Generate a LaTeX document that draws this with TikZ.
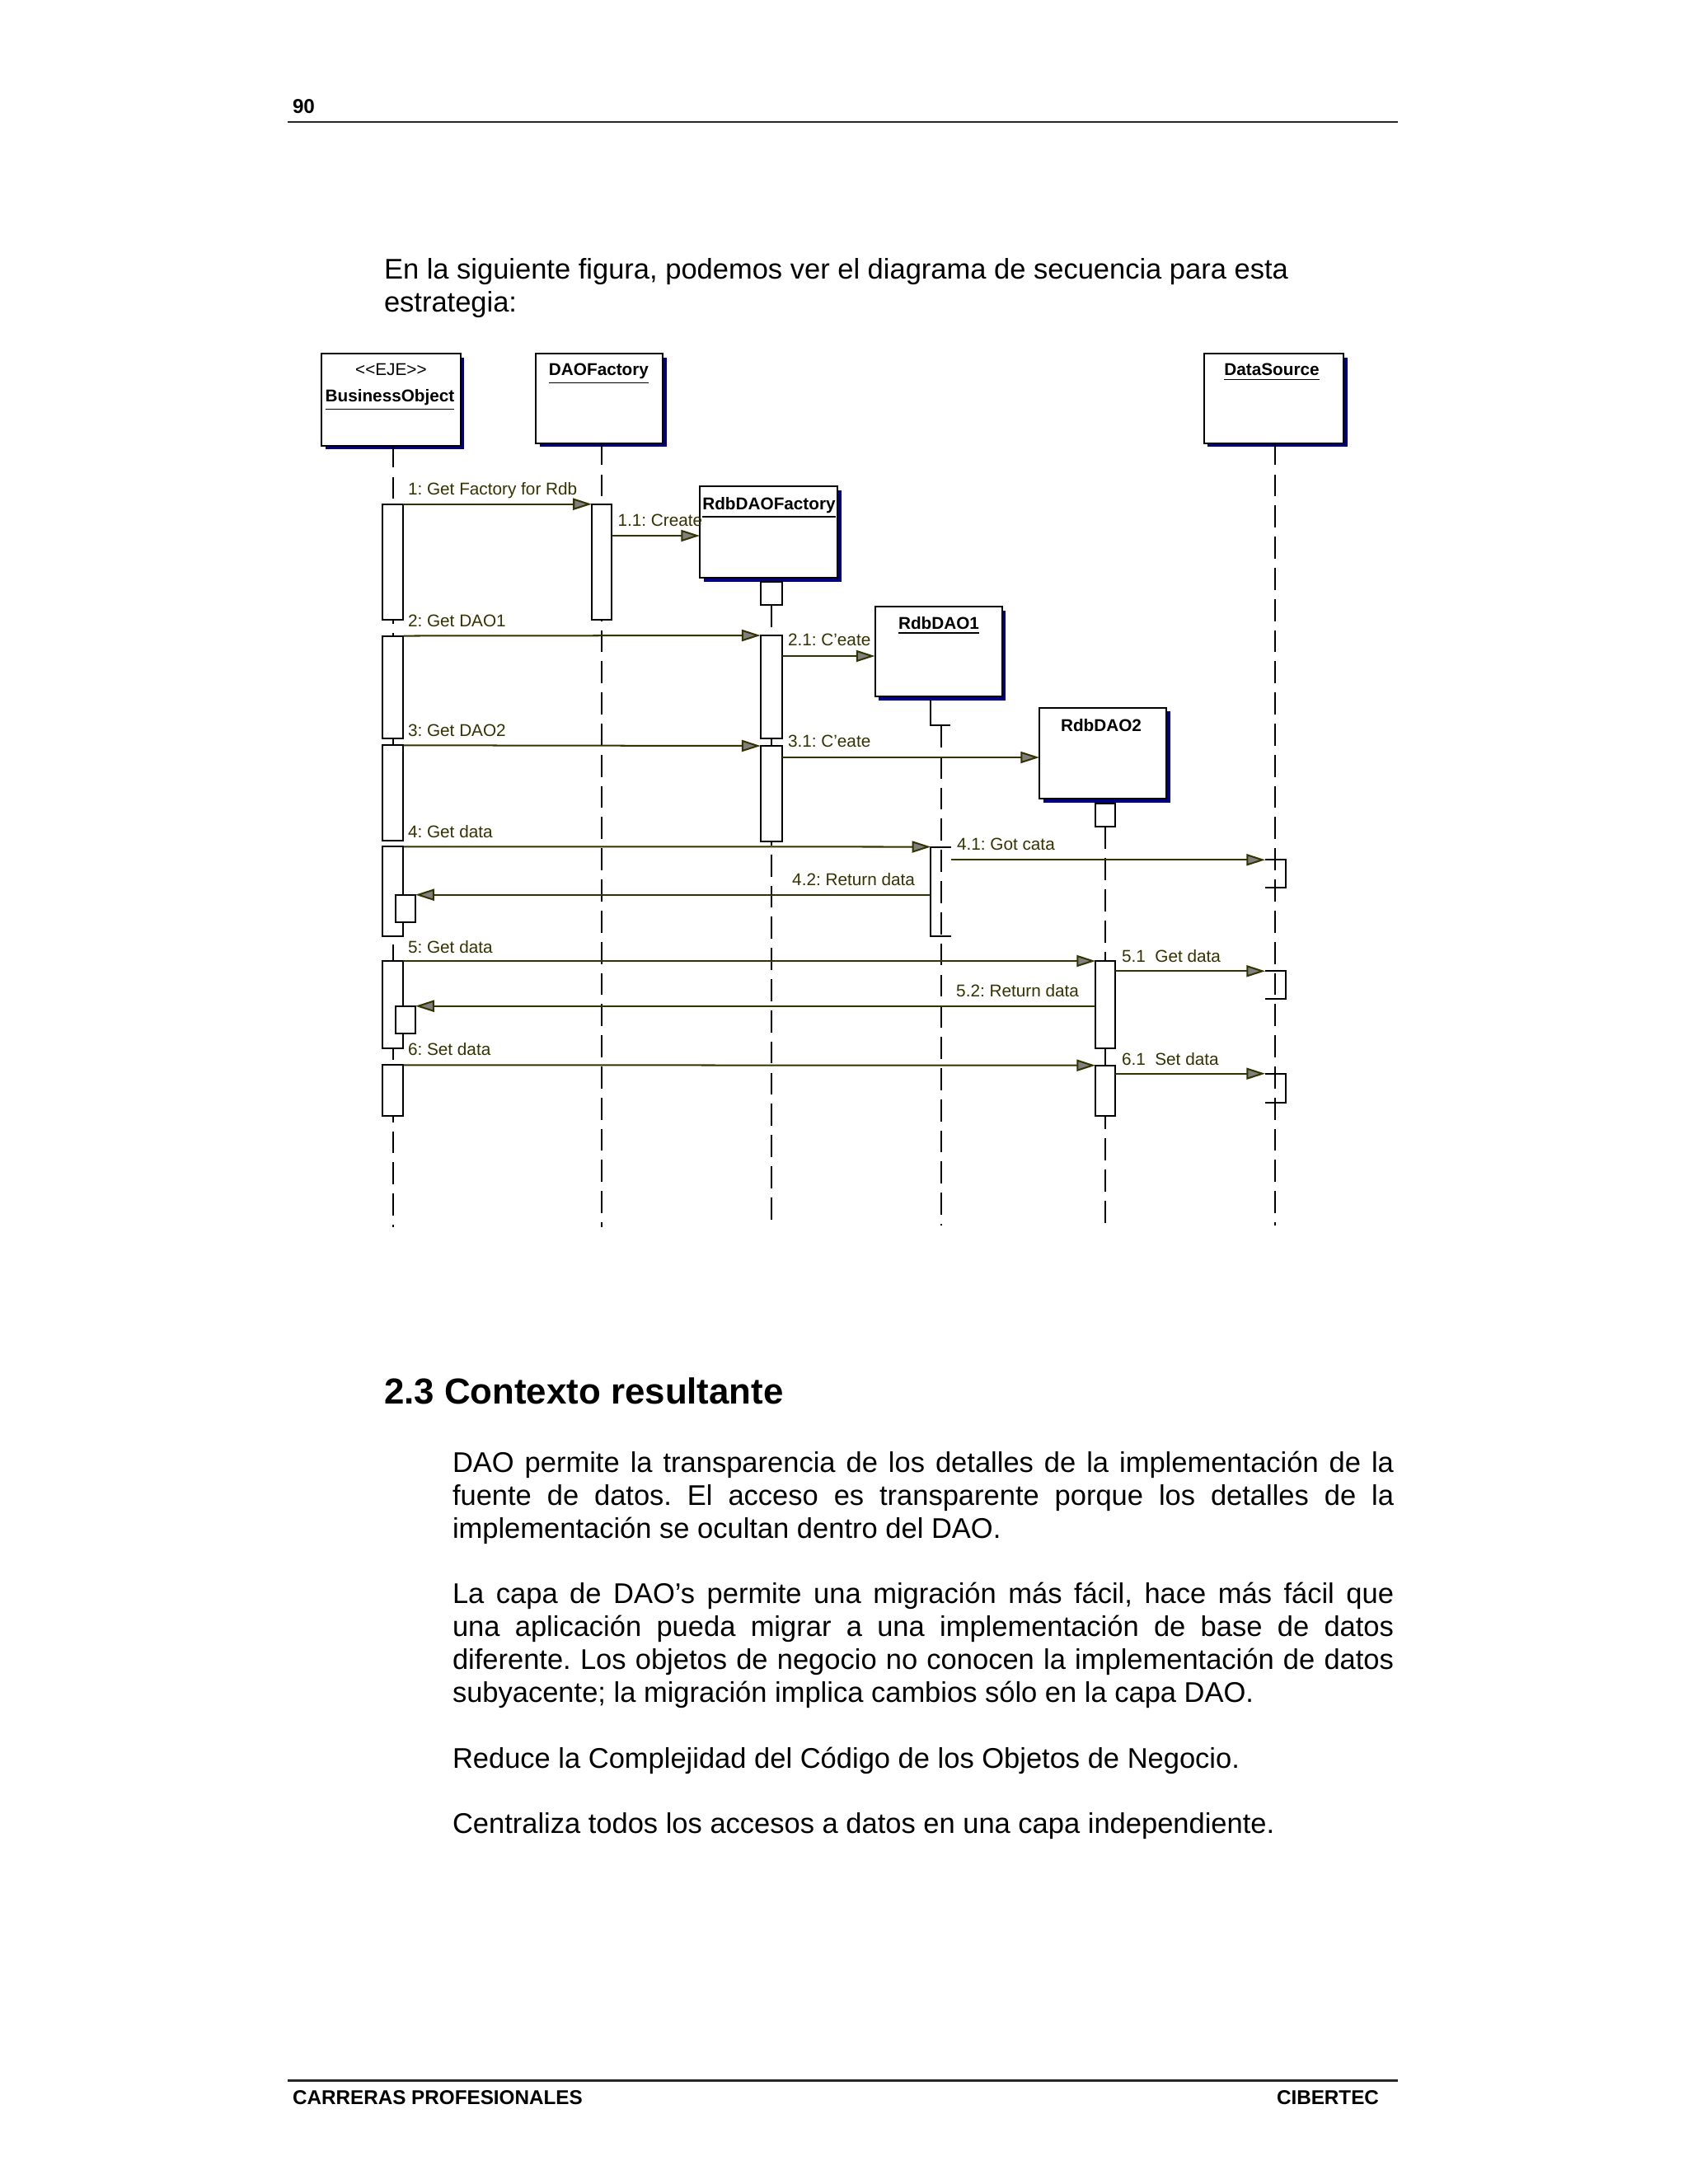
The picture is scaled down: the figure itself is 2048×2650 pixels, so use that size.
\documentclass[tikz,border=0pt]{standalone}
\usepackage{fontspec}
\setmainfont{Liberation Sans}
\usetikzlibrary{arrows.meta,fit,shadows}
\definecolor{msgc}{RGB}{51,51,0}
\definecolor{tipc}{RGB}{128,128,128}
\definecolor{shad}{RGB}{0,0,128}
\frenchspacing
\begin{document}
\begin{tikzpicture}[x=0.298828pt,y=-0.298828pt,
 every node/.style={inner sep=0pt, outer sep=0pt},
 objbox/.style={draw=black, line width=0.6pt, fill=white,
   general shadow={fill=shad, shadow xshift=1.35pt, shadow yshift=-1.35pt}},
 actbox/.style={draw=black, line width=0.6pt, fill=white},
 actline/.style={draw=black, line width=0.6pt},
 life/.style={draw=black, line width=0.6pt, dash pattern=on 8pt off 3.3pt},
 msg/.style={draw=msgc, line width=0.6pt, -{Triangle[length=6.8pt,width=4.2pt,fill=tipc]}},
 mlab/.style={font=\fontsize{6.2}{7}\selectfont, text=msgc, anchor=base west},
 mlabr/.style={font=\fontsize{6.2}{7}\selectfont, text=msgc, anchor=base east},
 olab/.style={font=\fontsize{6.2}{7}\selectfont\bfseries, anchor=base},
 body/.style={font=\fontsize{10.31}{12}\selectfont, anchor=base west},
 foot/.style={font=\fontsize{7.25}{8}\selectfont\bfseries, anchor=base west},
 rule/.style={draw=black!85, line width=0.7pt}
]
\useasboundingbox[fill=white] (0,0) rectangle (2048,2650);

% header and footer
\node[foot] (pg) at (355,137.5) {90};
\coordinate (hl) at (349.3,148); \coordinate (hr) at (1696,148);
\draw[rule] (hl) -- (hr);
\coordinate (fl) at (349.3,2524.5); \coordinate (fr) at (1696,2524.5);
\draw[rule] (fl) -- (fr);
\node[foot] (ftl) at (355,2553) {CARRERAS PROFESIONALES};
\node[foot] (ftr) at (1549,2553) {CIBERTEC};

% intro text
\node[body] (t1) at (466,338) {En la siguiente figura, podemos ver el diagrama de secuencia para esta};
\node[body] (t2) at (466,378) {estrategia:};

% object boxes
\node[objbox, fit={(390,429) (558.6,540.7)}] (bo) {};
\node[objbox, fit={(650,429) (804,537.7)}] (df) {};
\node[objbox, fit={(849,590) (1016,701)}] (rdf) {};
\node[objbox, fit={(1061.5,736) (1215.5,845)}] (rd1) {};
\node[objbox, fit={(1261,858.7) (1415,969.3)}] (rd2) {};
\node[objbox, fit={(1460.7,429) (1630,537.7)}] (ds) {};

\node[font=\fontsize{6.2}{7}\selectfont, anchor=base] (boS) at (474.4,455.5) {<{}<EJE>{}>};
\node[olab] (boL) at (473,487.5) {\underline{BusinessObject}};
\node[olab] (dfL) at (726.5,455.5) {\underline{DAOFactory}};
\node[olab] (rdfL) at (933,618) {\underline{RdbDAOFactory}};
\node[olab] (rd1L) at (1139,763) {\underline{RdbDAO1}};
\node[olab] (rd2L) at (1336,887) {RdbDAO2};
\node[olab] (dsL) at (1543,455.5) {\underline{DataSource}};

% lifelines
\coordinate (boE) at (476.7,1489);
\coordinate (dfE) at (729.8,1489);
\coordinate (rdfE) at (935.8,1483);
\coordinate (rd1S) at (1142.3,880);
\coordinate (rd1E) at (1142.3,1487);
\coordinate (rd2S) at (1341,1003.3);
\coordinate (rd2E) at (1341,1487);
\coordinate (dsE) at (1546.7,1487);
\draw[life] (boE |- bo.south) -- (boE);
\draw[life] (dfE |- df.south) -- (dfE);
\draw[life] (rdfE |- 0,734.3) -- (rdfE);
\draw[life] (rd1S) -- (rd1E);
\draw[life] (rd2S) -- (rd2E);
\draw[life] (dsE |- ds.south) -- (dsE);

% activations
\node[actbox, fit={(464,611.7) (489.4,752.3)}] (bo1) {};
\node[actbox, fit={(464,771.5) (489.4,895.7)}] (bo2) {};
\node[actbox, fit={(464,904.3) (489.4,1020)}] (bo3) {};
\node[actbox, fit={(464,1027.3) (489.4,1136)}] (bo4) {};
\node[actbox, fit={(464,1166) (489.4,1271.7)}] (bo5) {};
\node[actbox, fit={(464,1292.3) (489.4,1354)}] (bo6) {};
\node[actbox, fit={(480,1085.7) (504,1119)}] (bon1) {};
\node[actbox, fit={(480,1220.7) (504,1254)}] (bon2) {};
\node[actbox, fit={(718,611.7) (741.6,752.3)}] (df1) {};
\node[actbox, fit={(922.7,705.7) (949,734.3)}] (rdf1) {};
\node[actbox, fit={(922.7,771) (949,895.7)}] (rdf2) {};
\node[actbox, fit={(922.7,905) (949,1020.7)}] (rdf3) {};
\node[actbox, fit={(1329,975) (1353,1003.3)}] (rd2a) {};
\node[actbox, fit={(1329,1166) (1353,1271.7)}] (rd2b) {};
\node[actbox, fit={(1329,1292.7) (1353,1354)}] (rd2c) {};

% partial activations (RdbDAO1)
\coordinate (rd1cT) at (1129.4,849);
\coordinate (rd1cB) at (1129.4,880);
\coordinate (rd1cR) at (1152.6,880);
\draw[actline] (rd1cT) -- (rd1cB) -- (rd1cR);
\coordinate (rd1aTL) at (1129.3,1027.5);
\coordinate (rd1aTR) at (1153.7,1027.5);
\coordinate (rd1aBL) at (1129.3,1136);
\coordinate (rd1aBR) at (1153.7,1136);
\draw[actline] (rd1aTR) -- (rd1aTL) -- (rd1aBL) -- (rd1aBR);

% partial activations (DataSource)
\coordinate (ds1TL) at (1535,1043.3); \coordinate (ds1TR) at (1559.6,1043.3);
\coordinate (ds1BR) at (1559.6,1076.7); \coordinate (ds1BL) at (1535,1076.7);
\coordinate (ds2TL) at (1535,1178.3); \coordinate (ds2TR) at (1559.6,1178.3);
\coordinate (ds2BR) at (1559.6,1211.7); \coordinate (ds2BL) at (1535,1211.7);
\coordinate (ds3TL) at (1535,1302.7); \coordinate (ds3TR) at (1559.6,1302.7);
\coordinate (ds3BR) at (1559.6,1338.3); \coordinate (ds3BL) at (1535,1338.3);
\draw[actline] (ds1TL) -- (ds1TR) -- (ds1BR) -- (ds1BL);
\draw[actline] (ds2TL) -- (ds2TR) -- (ds2BR) -- (ds2BL);
\draw[actline] (ds3TL) -- (ds3TR) -- (ds3BR) -- (ds3BL);

% messages
\draw[msg] (bo1.north east) -- (df1.north west);
\draw[msg] (df1.east |- 0,650) -- (rdf.west |- 0,650);
\draw[msg] (bo2.north east) -- (rdf2.north west);
\draw[msg] (rdf2.east |- 0,796) -- (rd1.west |- 0,796);
\draw[msg] (bo3.north east) -- (rdf3.north west);
\draw[msg] (rdf3.east |- 0,919) -- (rd2.west |- 0,919);
\draw[msg] (bo4.north east) -- (rd1aTL);
\coordinate (m41) at (1154,1043.3);
\draw[msg] (m41) -- (ds1TL);
\draw[msg] (rd1aTL |- 0,1085.7) -- (bon1.north east);
\draw[msg] (bo5.north east) -- (rd2b.north west);
\draw[msg] (rd2b.east |- 0,1178.3) -- (ds2TL);
\draw[msg] (rd2b.west |- 0,1220.7) -- (bon2.north east);
\draw[msg] (bo6.north east) -- (rd2c.north west);
\draw[msg] (rd2c.east |- 0,1302.7) -- (ds3TL);

% message labels
\node[mlab] (l1) at (495,600) {1: Get Factory for Rdb};
\node[mlab] (l11) at (749.6,638) {1.1: Create};
\node[mlab] (l2) at (495,760) {2: Get DAO1};
\node[mlab] (l21) at (956,783) {2.1: C'eate};
\node[mlab] (l3) at (495,893) {3: Get DAO2};
\node[mlab] (l31) at (956,906.5) {3.1: C'eate};
\node[mlab] (l4) at (495,1016) {4: Get data};
\node[mlab] (l41) at (1161,1031.5) {4.1: Got cata};
\node[mlabr] (l42) at (1110,1074) {4.2: Return data};
\node[mlab] (l5) at (495,1156) {5: Get data};
\node[mlab] (l51) at (1361,1167) {5.1\ \ Get data};
\node[mlabr] (l52) at (1309,1209) {5.2: Return data};
\node[mlab] (l6) at (495,1280) {6: Set data};
\node[mlab] (l61) at (1361,1292.5) {6.1\ \ Set data};

% section
\node[font=\fontsize{13.1}{15}\selectfont\bfseries, anchor=base west] (h) at (466,1703) {2.3 Contexto resultante};

\node[body] (p1a) at (549,1786) {\makebox[341.3pt][s]{DAO permite la transparencia de los detalles de la implementación de la}};
\node[body] (p1b) at (549,1826) {\makebox[341.3pt][s]{fuente de datos. El acceso es transparente porque los detalles de la}};
\node[body] (p1c) at (549,1866) {implementación se ocultan dentro del DAO.};
\node[body] (p2a) at (549,1945) {\makebox[341.3pt][s]{La capa de DAO’s permite una migración más fácil, hace más fácil que}};
\node[body] (p2b) at (549,1985) {\makebox[341.3pt][s]{una aplicación pueda migrar a una implementación de base de datos}};
\node[body] (p2c) at (549,2025) {\makebox[341.3pt][s]{diferente. Los objetos de negocio no conocen la implementación de datos}};
\node[body] (p2d) at (549,2065) {subyacente; la migración implica cambios sólo en la capa DAO.};
\node[body] (p3) at (549,2145) {Reduce la Complejidad del Código de los Objetos de Negocio.};
\node[body] (p4) at (549,2224) {Centraliza todos los accesos a datos en una capa independiente.};
\end{tikzpicture}
\end{document}
